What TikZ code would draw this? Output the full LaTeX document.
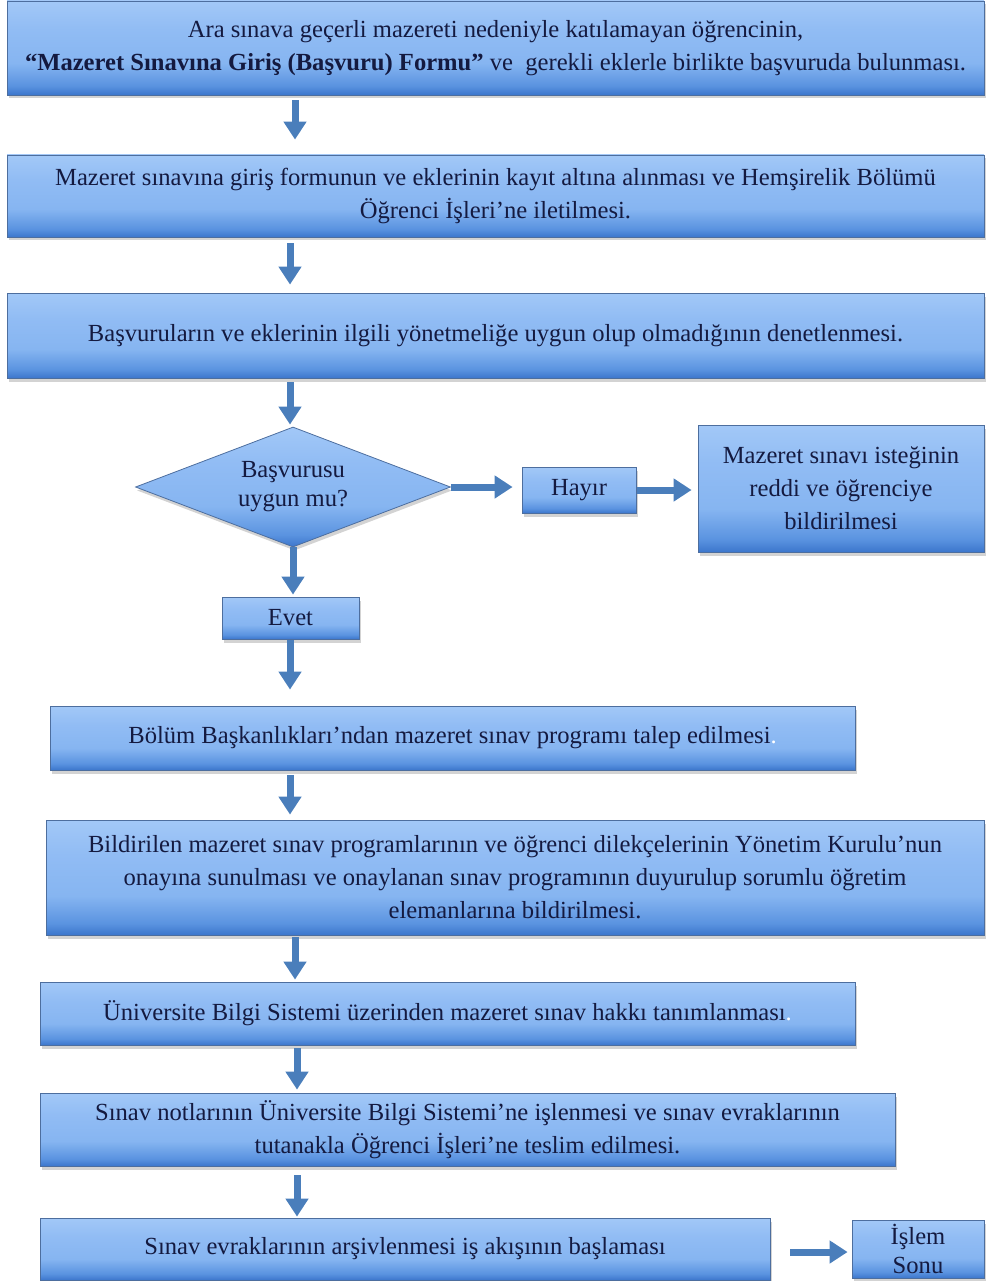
\documentclass[tikz,border=0pt]{standalone}
\usepackage{fontspec}
\setmainfont{Liberation Serif}
\usetikzlibrary{arrows.meta,shapes.geometric,shadows}
\definecolor{bdark}{HTML}{3C76CC}
\definecolor{bmid}{HTML}{5A93E0}
\definecolor{blight}{HTML}{86B5F1}
\definecolor{bmid2}{HTML}{91BCF4}
\definecolor{btop}{HTML}{A2C8F7}
\definecolor{bline}{HTML}{4D6E9E}
\definecolor{arrc}{HTML}{4A7EBB}
\definecolor{txt}{HTML}{141A40}
\pgfdeclareverticalshading{boxshade}{100bp}{color(0bp)=(bdark); color(25bp)=(bdark); color(30bp)=(bmid); color(42bp)=(blight); color(60bp)=(bmid2); color(75bp)=(btop); color(100bp)=(btop)}
\tikzset{
  fbox/.style={draw=bline, line width=0.8pt, shading=boxshade,
    drop shadow={shadow xshift=1.5pt, shadow yshift=-3.5pt, opacity=0.35},
    inner sep=0pt, align=center, text=txt,
    font=\fontsize{24.6}{33}\selectfont},
  fdia/.style={fbox, diamond, aspect=2.6},
  arr/.style={draw=arrc, line width=7pt, -{Triangle[width=22pt,length=18pt]}},
}
\begin{document}
\begin{tikzpicture}[x=1pt,y=-1pt]
\useasboundingbox (0,0) rectangle (986,1281);
\node[fbox, minimum width=977pt, minimum height=94pt] (b1) at (495.5,48)
  {Ara sınava geçerli mazereti nedeniyle katılamayan öğrencinin,\\
   \textbf{“Mazeret Sınavına Giriş (Başvuru) Formu”} ve\ \ gerekli eklerle birlikte başvuruda bulunması.};
\node[fbox, minimum width=977pt, minimum height=82pt] (b2) at (495.5,196)
  {Mazeret sınavına giriş formunun ve eklerinin kayıt altına alınması ve Hemşirelik Bölümü\\
   Öğrenci İşleri’ne iletilmesi.};
\node[fbox, minimum width=977pt, minimum height=85pt] (b3) at (495.5,335.5)
  {Başvuruların ve eklerinin ilgili yönetmeliğe uygun olup olmadığının denetlenmesi.};
\node[fdia, minimum width=315pt, minimum height=120pt] (dia) at (293,487)
  {Başvurusu\\[-4pt]uygun mu?};
\node[fbox, minimum width=114pt, minimum height=46pt] (hayir) at (579,490) {Hayır};
\node[fbox, minimum width=286pt, minimum height=127pt] (red) at (841,488.5)
  {Mazeret sınavı isteğinin\\reddi ve öğrenciye\\bildirilmesi};
\node[fbox, minimum width=137pt, minimum height=42pt] (evet) at (290.5,618) {Evet};
\node[fbox, minimum width=805pt, minimum height=64pt] (b4) at (452.5,738)
  {Bölüm Başkanlıkları’ndan mazeret sınav programı talep edilmesi{\color{white}.}};
\node[fbox, minimum width=938pt, minimum height=115pt] (b5) at (515,877.5)
  {Bildirilen mazeret sınav programlarının ve öğrenci dilekçelerinin Yönetim Kurulu’nun\\
   onayına sunulması ve onaylanan sınav programının duyurulup sorumlu öğretim\\
   elemanlarına bildirilmesi.};
\node[fbox, minimum width=815pt, minimum height=63pt] (b6) at (447.5,1013.5)
  {Üniversite Bilgi Sistemi üzerinden mazeret sınav hakkı tanımlanması{\color{white}.}};
\node[fbox, minimum width=855pt, minimum height=73pt] (b7) at (467.5,1129.5)
  {Sınav notlarının Üniversite Bilgi Sistemi’ne işlenmesi ve sınav evraklarının\\
   tutanakla Öğrenci İşleri’ne teslim edilmesi.};
\node[fbox, minimum width=730pt, minimum height=62pt] (b8) at (405,1249)
  {Sınav evraklarının arşivlenmesi iş akışının başlaması};
\node[fbox, minimum width=132pt, minimum height=58pt] (son) at (918,1249)
  {İşlem\\[-4pt]Sonu};
% arrows
\draw[arr, shorten <=5pt, shorten >=15pt] (b1.south -| 295,0) -- (b2.north -| 295,0);
\draw[arr, shorten <=6pt, shorten >=8pt] (b2.south -| 290,0) -- (b3.north -| 290,0);
\draw[arr, shorten <=4pt, shorten >=2pt] (b3.south -| 290,0) -- (dia.north -| 290,0);
\draw[arr, shorten >=9pt] (dia.east) -- (dia.east -| hayir.west);
\draw[arr, shorten <=1pt, shorten >=6pt] (hayir.east) -- (red.west |- hayir.east);
\draw[arr, shorten >=2pt] (dia.south) -- (evet.north -| dia.south);
\draw[arr, shorten <=1pt, shorten >=16pt] (evet.south -| 290,0) -- (b4.north -| 290,0);
\draw[arr, shorten <=5pt, shorten >=5pt] (b4.south -| 290,0) -- (b5.north -| 290,0);
\draw[arr, shorten <=2pt, shorten >=2pt] (b5.south -| 295,0) -- (b6.north -| 295,0);
\draw[arr, shorten <=3pt, shorten >=3pt] (b6.south -| 297,0) -- (b7.north -| 297,0);
\draw[arr, shorten <=9pt, shorten >=1pt] (b7.south -| 297,0) -- (b8.north -| 297,0);
\draw[arr, shorten <=20pt, shorten >=4pt] ([yshift=-3pt]b8.east) -- ([yshift=-3pt]b8.east -| son.west);
\end{tikzpicture}
\end{document}
